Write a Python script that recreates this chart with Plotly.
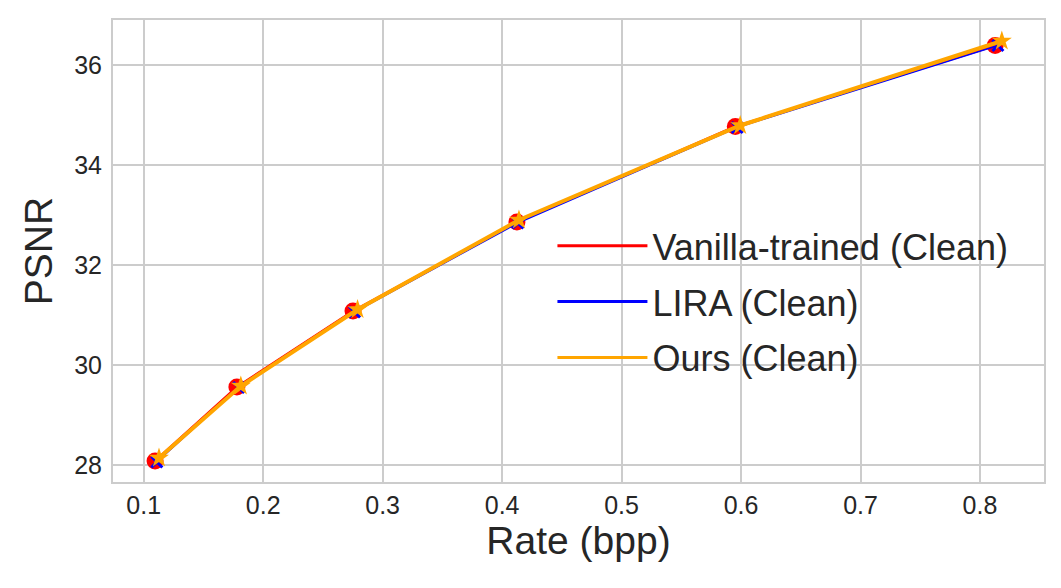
import plotly.graph_objects as go

# rate (bpp) / PSNR
vanilla_rate = [0.1095, 0.178, 0.2752, 0.4124, 0.5952, 0.8127]
vanilla_psnr = [28.08, 29.56, 31.08, 32.86, 34.77, 36.39]

lira_rate = [0.111, 0.1795, 0.2765, 0.4132, 0.5968, 0.8150]
lira_psnr = [28.06, 29.55, 31.06, 32.84, 34.75, 36.39]

ours_rate = [0.1128, 0.1813, 0.2790, 0.4141, 0.5993, 0.8183]
ours_psnr = [28.14, 29.58, 31.11, 32.90, 34.79, 36.48]

x_ticks = [0.1, 0.2, 0.3, 0.4, 0.5, 0.6, 0.7, 0.8]
y_ticks = [28, 30, 32, 34, 36]

TEXT = "#262626"
GRID = "#cccccc"
FONT = "Liberation Sans, Arial, sans-serif"

series = [
    ("Vanilla-trained (Clean)", vanilla_rate, vanilla_psnr, "red", 2.5,
     dict(symbol="circle", size=17, color="red")),
    ("LIRA (Clean)", lira_rate, lira_psnr, "blue", 1.5,
     dict(symbol="x-thin", size=11, color="blue", line=dict(color="blue", width=3))),
    ("Ours (Clean)", ours_rate, ours_psnr, "orange", 4,
     dict(symbol="star", size=15, color="orange", line=dict(width=0))),
]

fig = go.Figure()

# data traces (no legend, markers drawn)
for name, x, y, color, width, marker in series:
    fig.add_trace(go.Scatter(
        x=x, y=y, mode="lines+markers", name=name,
        line=dict(color=color, width=width),
        marker=marker, showlegend=False
    ))

# legend entries show lines only
for i, (name, x, y, color, width, marker) in enumerate(series):
    fig.add_trace(go.Scatter(
        x=[None], y=[None], mode="lines", name=name,
        line=dict(color=color, width=3),
        legendgroup=f"g{i}"
    ))

# page body adds a small offset, so margins are shifted a bit
fig.update_layout(
    width=1061,
    height=588,
    margin=dict(l=105, r=25, t=12, b=114),
    plot_bgcolor="white",
    paper_bgcolor="white",
    font=dict(family=FONT, color=TEXT, size=25),
    legend=dict(
        x=0.472, y=0.576, xanchor="left", yanchor="top",
        bgcolor="rgba(0,0,0,0)",
        font=dict(size=36, color=TEXT),
        tracegroupgap=6,
        itemwidth=90,
    ),
)

fig.update_xaxes(
    range=[0.0743, 0.8536],
    tickvals=x_ticks,
    ticktext=[f"{v:.1f}" for v in x_ticks],
    showgrid=True, gridcolor=GRID, gridwidth=1.5,
    showline=True, linecolor=GRID, linewidth=2, mirror=True,
    zeroline=False, automargin=False,
    ticks="", ticklabelstandoff=0,
    title=dict(text="Rate (bpp)", font=dict(size=39, color=TEXT), standoff=7),
)
fig.update_yaxes(
    range=[27.66, 36.9],
    tickvals=y_ticks,
    showgrid=True, gridcolor=GRID, gridwidth=1.5,
    showline=True, linecolor=GRID, linewidth=2, mirror=True,
    zeroline=False, automargin=False,
    ticks="outside", ticklen=4, tickcolor="white",
    title=dict(text="PSNR", font=dict(size=39, color=TEXT), standoff=10),
)

fig.write_html("out.html")
